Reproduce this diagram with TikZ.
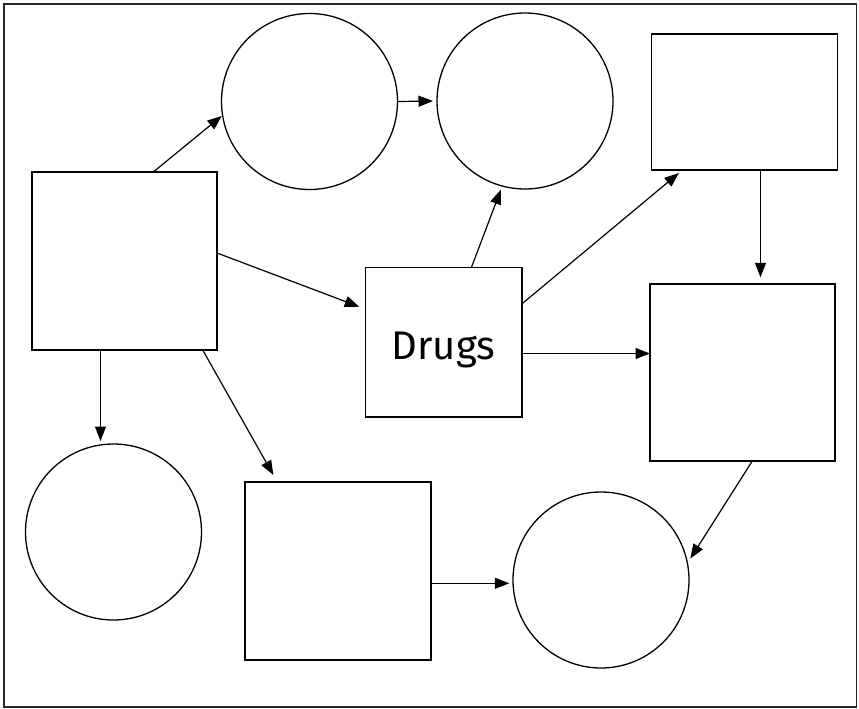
\documentclass[tikz,border=0pt]{standalone}
\usepackage{fontspec}
\setmainfont{Fira Sans}
\usetikzlibrary{arrows.meta}
\begin{document}
\begin{tikzpicture}[x=1pt,y=-1pt,
  box/.style={draw=black,line width=1.5pt,inner sep=0pt,outer sep=0pt,fill=white},
  circ/.style={draw=black,line width=1.3pt,circle,inner sep=0pt,outer sep=0pt,minimum size=176pt},
  conn/.style={line width=1.2pt,-{Triangle[length=14.5pt,width=11pt]}},
  frame/.style={draw=black!85,line width=1.3pt}]
\useasboundingbox (0,0) rectangle (859,709);
\draw[frame] (4,4) rectangle (856.5,707);
\node[box,minimum width=185pt,minimum height=178pt] (A) at (124.5,261) {};
\node[circ] (B) at (309.5,101.5) {};
\node[circ] (C) at (525,101) {};
\node[box,minimum width=186pt,minimum height=136pt] (D) at (744.5,102) {};
\node[box,minimum width=156.5pt,minimum height=149.5pt,font=\fontsize{40}{48}\selectfont,text height=34pt,text depth=0pt] (Dr) at (443.5,342) {Drugs};
\node[box,minimum width=185pt,minimum height=177pt] (E) at (742.5,372.5) {};
\node[circ] (F) at (113.5,532) {};
\node[box,minimum width=186pt,minimum height=178pt] (G) at (338,571) {};
\node[circ] (H) at (601,580) {};
\draw[conn,shorten >=1pt] ([xshift=28.8pt]A.north) -- (B.189);
\draw[conn,shorten >=4pt] (B.east) -- (C.west);
\draw[conn,shorten >=6.4pt] ([yshift=8pt]A.east) -- ([yshift=33pt]Dr.west);
\draw[conn,shorten >=4pt] ([xshift=28pt]Dr.north) -- (C.255);
\draw[conn,shorten >=4.7pt] ([yshift=38pt]Dr.east) -- ([xshift=-62pt]D.south);
\draw[conn] ([yshift=-11.5pt]Dr.east) -- ([yshift=19pt]E.west);
\draw[conn,shorten >=6.7pt] ([xshift=16pt]D.south) -- ([xshift=18pt]E.north);
\draw[conn,shorten >=3pt] ([xshift=-24pt]A.south) -- ([xshift=-13pt]F.north);
\draw[conn,shorten >=8pt] ([xshift=78.2pt]A.south) -- ([xshift=-60.7pt]G.north);
\draw[conn,shorten >=3.7pt] ([yshift=-12.3pt]G.east) -- ([yshift=-3.3pt]H.west);
\draw[conn,shorten >=5.5pt] ([xshift=9.8pt]E.south) -- (H.11);
\end{tikzpicture}
\end{document}
